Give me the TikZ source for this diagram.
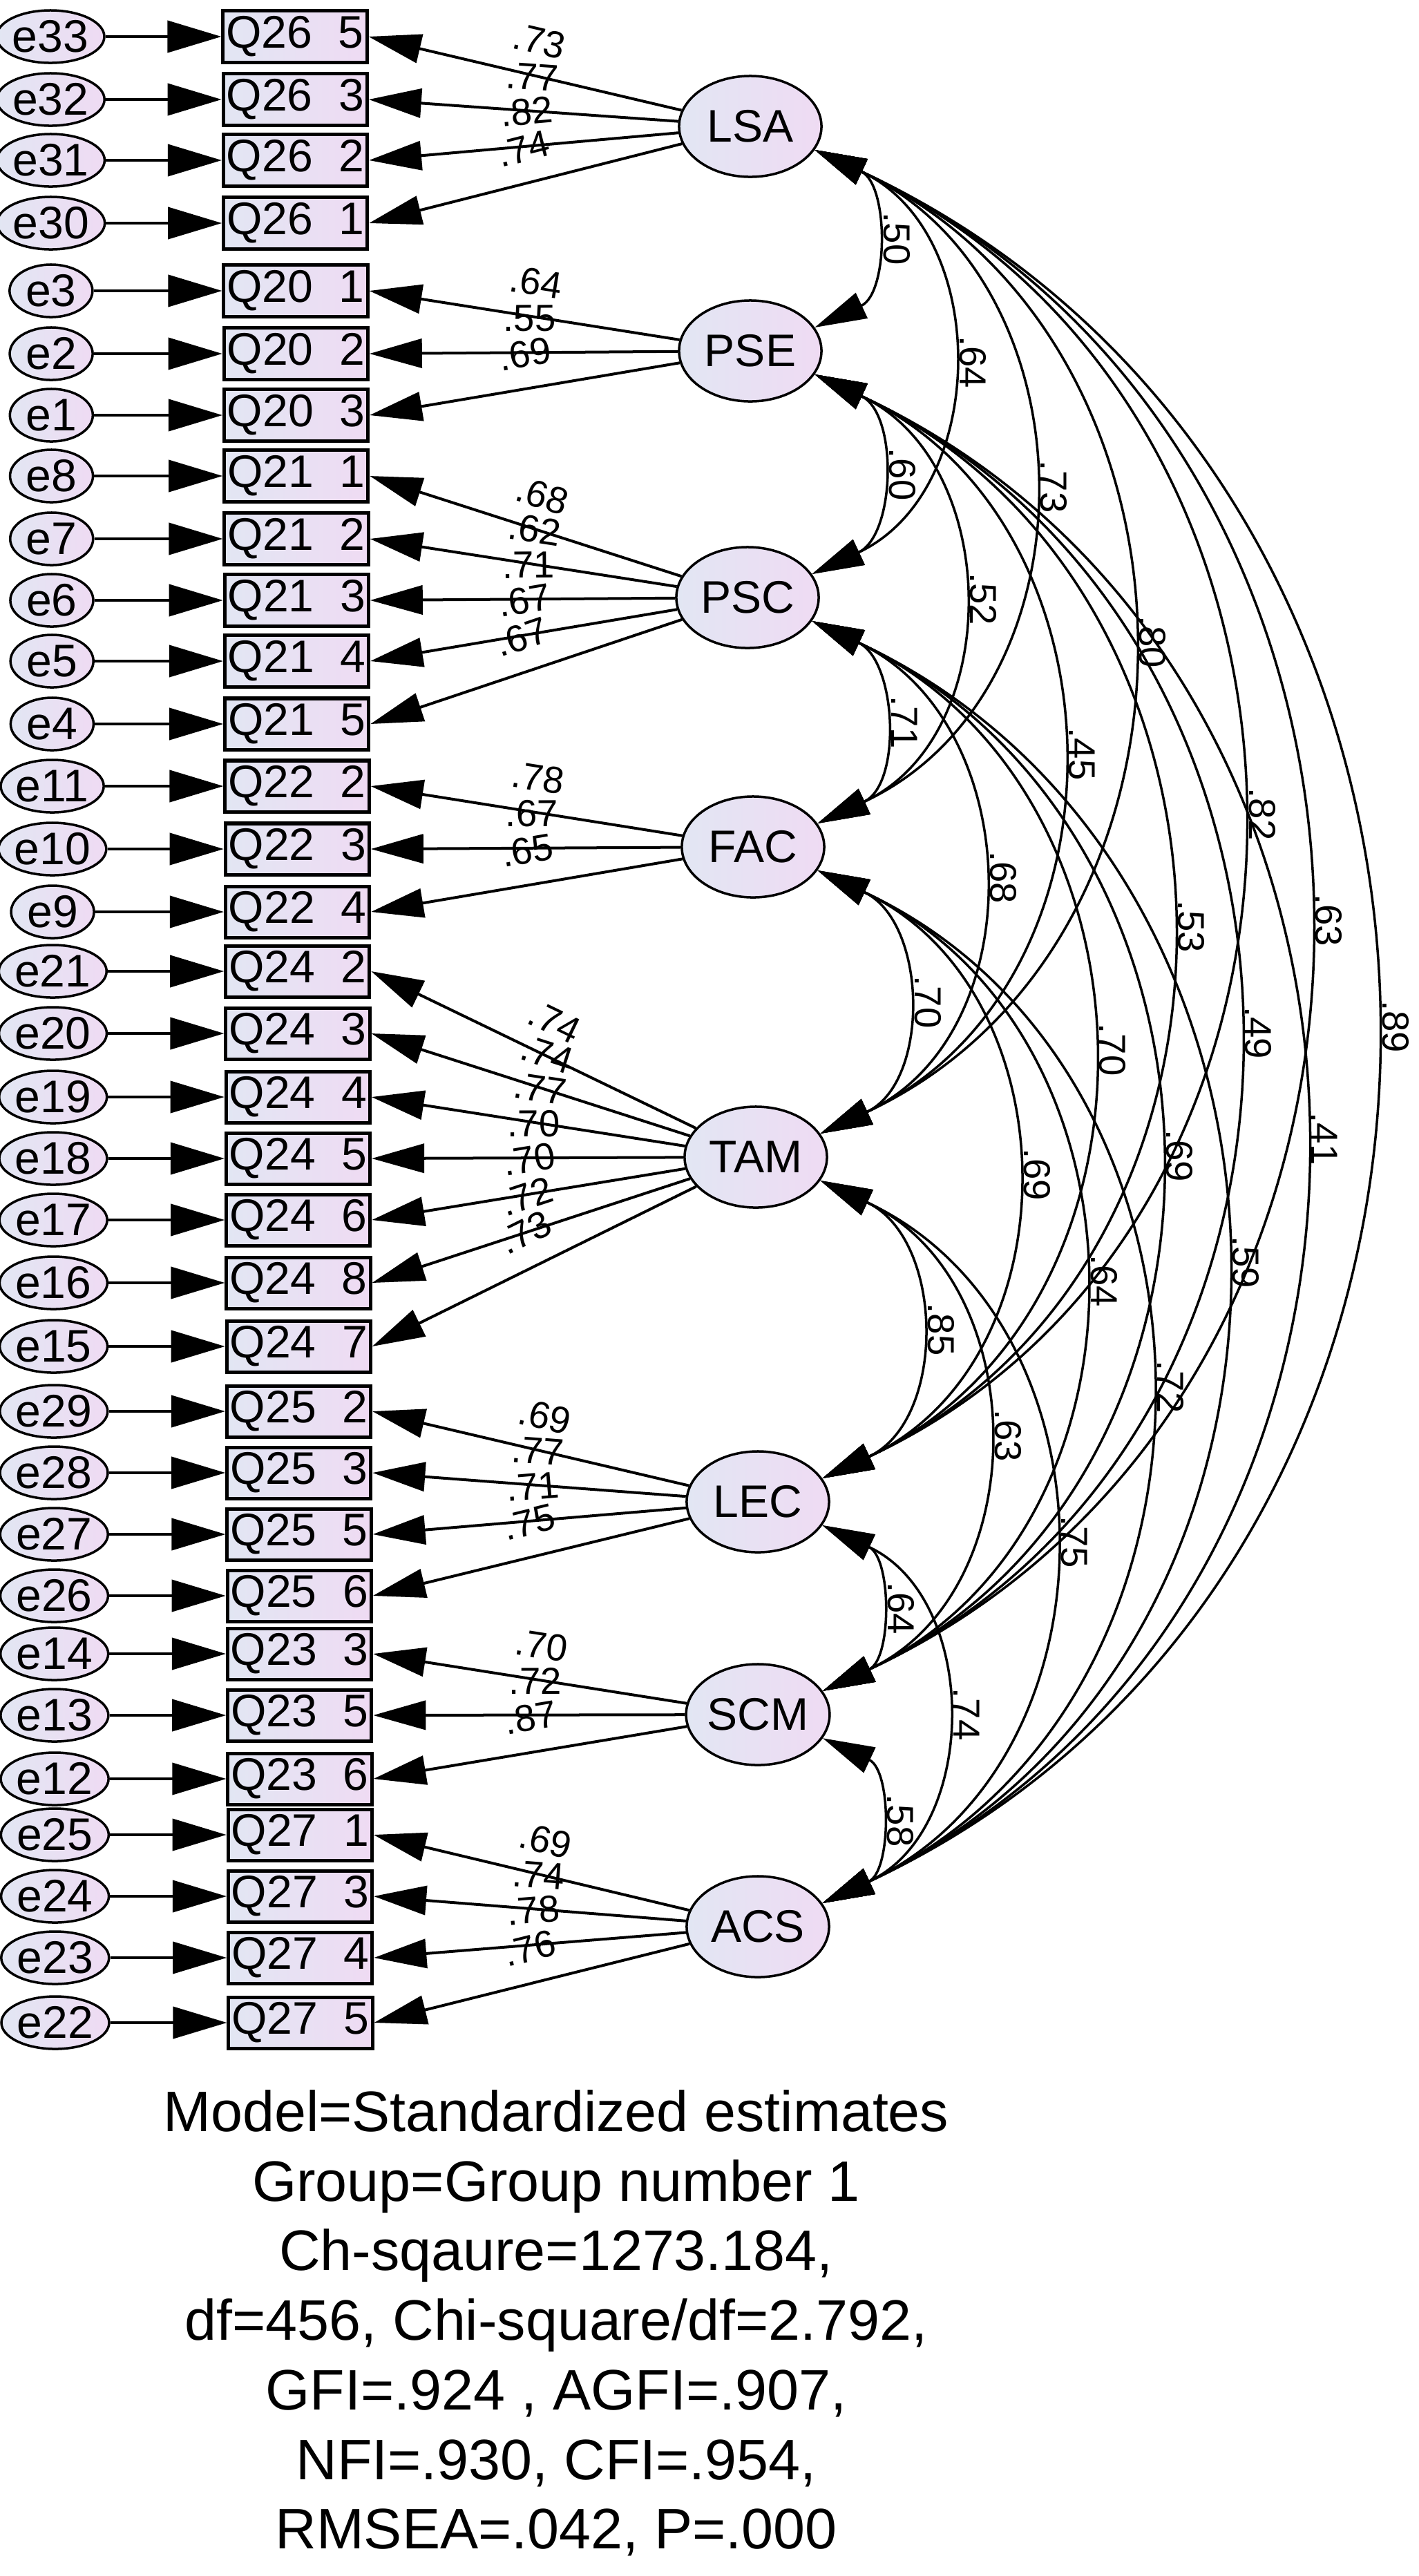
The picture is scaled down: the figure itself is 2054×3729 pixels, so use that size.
\documentclass[tikz,border=0pt]{standalone}
\usepackage{fontspec}
\setmainfont{Liberation Sans}
\usetikzlibrary{arrows.meta,shapes.geometric}
\definecolor{fa}{RGB}{226,230,243}
\definecolor{fb}{RGB}{239,219,243}
\begin{document}
\begin{tikzpicture}[x=0.01cm,y=0.01cm,
 base/.style={left color=fa,right color=fb,inner sep=0pt,font=\fontsize{18.8}{20}\selectfont},
 obs/.style={base,draw,line width=0.05cm,rectangle,minimum width=2.08cm,minimum height=0.74cm},
 err/.style={base,draw,line width=0.035cm,ellipse,minimum width=1.2cm,minimum height=0.76cm},
 lat/.style={base,draw,line width=0.035cm,ellipse,minimum width=2.06cm,minimum height=1.46cm},
 ar/.style={line width=0.04cm,-{Triangle[length=0.78cm,width=0.46cm]}},
 lar/.style={line width=0.04cm,{Triangle[length=0.76cm,width=0.42cm]}-},
 cov/.style={line width=0.035cm,{Triangle[length=0.75cm,width=0.4cm]}-{Triangle[length=0.75cm,width=0.4cm]}},
 ll/.style={font=\fontsize{15.5}{17}\selectfont,inner sep=1pt},
 cl/.style={font=\fontsize{15.5}{17}\selectfont,rotate=-90,anchor=south,inner sep=0.17cm}]
\useasboundingbox (0,0) rectangle (2054,-3729);
\node[lat] (LSA) at (1086,-183) {LSA};
\node[lat] (PSE) at (1086,-508) {PSE};
\node[lat] (PSC) at (1082,-865) {PSC};
\node[lat] (FAC) at (1090,-1226) {FAC};
\node[lat] (TAM) at (1094,-1675) {TAM};
\node[lat] (LEC) at (1097,-2174) {LEC};
\node[lat] (SCM) at (1097,-2482) {SCM};
\node[lat] (ACS) at (1097,-2789) {ACS};
\foreach \q/\n/\y/\e/\l/\v [count=\k from 0] in {
 Q26/5/53/e33/LSA/.73, Q26/3/144/e32/LSA/.77, Q26/2/232/e31/LSA/.82, Q26/1/323/e30/LSA/.74,
 Q20/1/421/e3/PSE/.64, Q20/2/512/e2/PSE/.55, Q20/3/601/e1/PSE/.69,
 Q21/1/689/e8/PSC/.68, Q21/2/780/e7/PSC/.62, Q21/3/869/e6/PSC/.71, Q21/4/957/e5/PSC/.67, Q21/5/1048/e4/PSC/.67,
 Q22/2/1138/e11/FAC/.78, Q22/3/1229/e10/FAC/.67, Q22/4/1320/e9/FAC/.65,
 Q24/2/1406/e21/TAM/.74, Q24/3/1496/e20/TAM/.74, Q24/4/1588/e19/TAM/.77, Q24/5/1677/e18/TAM/.70, Q24/6/1766/e17/TAM/.70, Q24/8/1857/e16/TAM/.72, Q24/7/1949/e15/TAM/.73,
 Q25/2/2043/e29/LEC/.69, Q25/3/2132/e28/LEC/.77, Q25/5/2221/e27/LEC/.71, Q25/6/2310/e26/LEC/.75,
 Q23/3/2394/e14/SCM/.70, Q23/5/2483/e13/SCM/.72, Q23/6/2575/e12/SCM/.87,
 Q27/1/2656/e25/ACS/.69, Q27/3/2745/e24/ACS/.74, Q27/4/2834/e23/ACS/.78, Q27/5/2928/e22/ACS/.76}{
 \pgfmathsetmacro\ex{73+7*\k/32}
 \pgfmathsetmacro\qx{427+8*\k/32}
 \node[err] (\e) at (\ex,-\y) {\e};
 \node[obs] (q\k) at (\qx,-\y) {\makebox[1.99cm]{\q\hfill\n}};
 \draw[ar] (\e) -- (q\k);
 \draw[lar] (q\k.east) -- (\l) node[ll,pos=0.52,sloped,above=0.25cm]{\v};
}
\foreach \a/\b/\v in {LSA/PSE/.50, LSA/PSC/.64, LSA/FAC/.73, LSA/TAM/.80, LSA/LEC/.82, LSA/SCM/.63, LSA/ACS/.89,
 PSE/PSC/.60, PSE/FAC/.52, PSE/TAM/.45, PSE/LEC/.53, PSE/SCM/.49, PSE/ACS/.41,
 PSC/FAC/.71, PSC/TAM/.68, PSC/LEC/.70, PSC/SCM/.69, PSC/ACS/.59,
 FAC/TAM/.70, FAC/LEC/.69, FAC/SCM/.64, FAC/ACS/.72,
 TAM/LEC/.85, TAM/SCM/.63, TAM/ACS/.75,
 LEC/SCM/.64, LEC/ACS/.74, SCM/ACS/.58}{
 \draw[cov] (\a.-20) to[out=-25,in=25,looseness=1.18] node[cl,midway]{\v} (\b.20);
}
\node[font=\fontsize{23.5}{28.65}\selectfont,align=center,inner sep=0pt] (fit) at (805,-3363) {Model=Standardized estimates\\Group=Group number 1\\Ch-sqaure=1273.184,\\df=456, Chi-square/df=2.792,\\GFI=.924 , AGFI=.907,\\NFI=.930, CFI=.954,\\RMSEA=.042, P=.000};
\end{tikzpicture}
\end{document}
